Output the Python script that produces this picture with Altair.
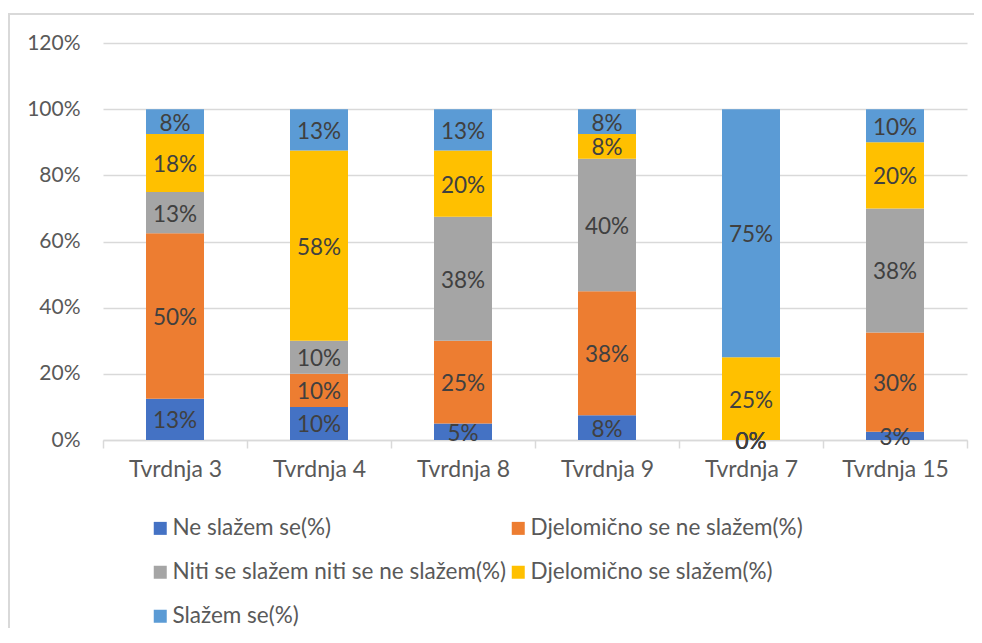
import altair as alt
import pandas as pd

categories = ["Tvrdnja 3", "Tvrdnja 4", "Tvrdnja 8", "Tvrdnja 9", "Tvrdnja 7", "Tvrdnja 15"]
series = [
    "Ne slažem se(%)",
    "Djelomično se ne slažem(%)",
    "Niti se slažem niti se ne slažem(%)",
    "Djelomično se slažem(%)",
    "Slažem se(%)",
]
colors = ["#4472C4", "#ED7D31", "#A5A5A5", "#FFC000", "#5B9BD5"]

ne_slazem = [12.5, 10, 5, 7.5, 0, 2.5]
djel_ne = [50, 10, 25, 37.5, 0, 30]
niti = [12.5, 10, 37.5, 40, 0, 37.5]
djel_se = [17.5, 57.5, 20, 7.5, 25, 20]
slazem = [7.5, 12.5, 12.5, 7.5, 75, 10]
y_ticks = [0, 20, 40, 60, 80, 100, 120]

values = [ne_slazem, djel_ne, niti, djel_se, slazem]

rows = []
for ci, cat in enumerate(categories):
    base = 0.0
    for si, s in enumerate(series):
        v = values[si][ci]
        rows.append({
            "cat": cat, "series": s, "idx": si, "value": v,
            "mid": base + v / 2.0,
            "label": f"{int(v + 0.5)}%",
        })
        base += v
df = pd.DataFrame(rows)

FONT = "Lato"
GRID = "#D9D9D9"
TXT = "#595959"

x_enc = alt.X("cat:N", sort=categories, title=None,
              scale=alt.Scale(paddingInner=0, paddingOuter=0),
              axis=alt.Axis(labelAngle=0, labelFontSize=23, labelColor=TXT, labelFont=FONT,
                            domainColor=GRID, domainWidth=1.5, tickColor=GRID, tickWidth=1.5,
                            tickSize=8, tickBand="extent", labelPadding=10, grid=False))

bars = alt.Chart(df).mark_bar(size=58).encode(
    x=x_enc,
    y=alt.Y("value:Q", stack="zero", title=None,
            scale=alt.Scale(domain=[0, 120], nice=False),
            axis=alt.Axis(values=y_ticks, labelExpr="datum.value + '%'", labelFontSize=21,
                          labelColor=TXT, labelFont=FONT, domain=False, ticks=False,
                          gridColor=GRID, gridWidth=1.5, labelPadding=23)),
    color=alt.Color("series:N", sort=series,
                    scale=alt.Scale(domain=series, range=colors),
                    legend=alt.Legend(title=None, orient="none", legendX=46, legendY=474,
                                      direction="horizontal", columns=2, columnPadding=0,
                                      rowPadding=21, symbolType="square", symbolSize=169,
                                      symbolStrokeWidth=0, labelFontSize=22.5, labelFont=FONT,
                                      labelColor=TXT, labelOffset=1, padding=0, labelLimit=500)),
    order=alt.Order("idx:Q"),
)

labels = alt.Chart(df).mark_text(fontSize=22.5, font=FONT, color="#404040",
                                 baseline="middle", dy=2).encode(
    x=alt.X("cat:N", sort=categories),
    y=alt.Y("mid:Q"),
    text="label:N",
)

one = pd.DataFrame({"a": [0]})
frame_top = alt.Chart(one).mark_rect(fill=GRID, strokeWidth=0).encode(
    x=alt.value(-95), x2=alt.value(880), y=alt.value(-30), y2=alt.value(-28))
frame_left = alt.Chart(one).mark_rect(fill=GRID, strokeWidth=0).encode(
    x=alt.value(-95), x2=alt.value(-93), y=alt.value(-30), y2=alt.value(620))

chart = alt.layer(frame_top, frame_left, bars, labels).properties(
    width=864, height=397, autosize="none",
    padding={"left": 95, "top": 35, "right": 7, "bottom": 188},
).configure_view(stroke=None)

chart.save("out.html", embed_options={"renderer": "svg", "actions": False})
